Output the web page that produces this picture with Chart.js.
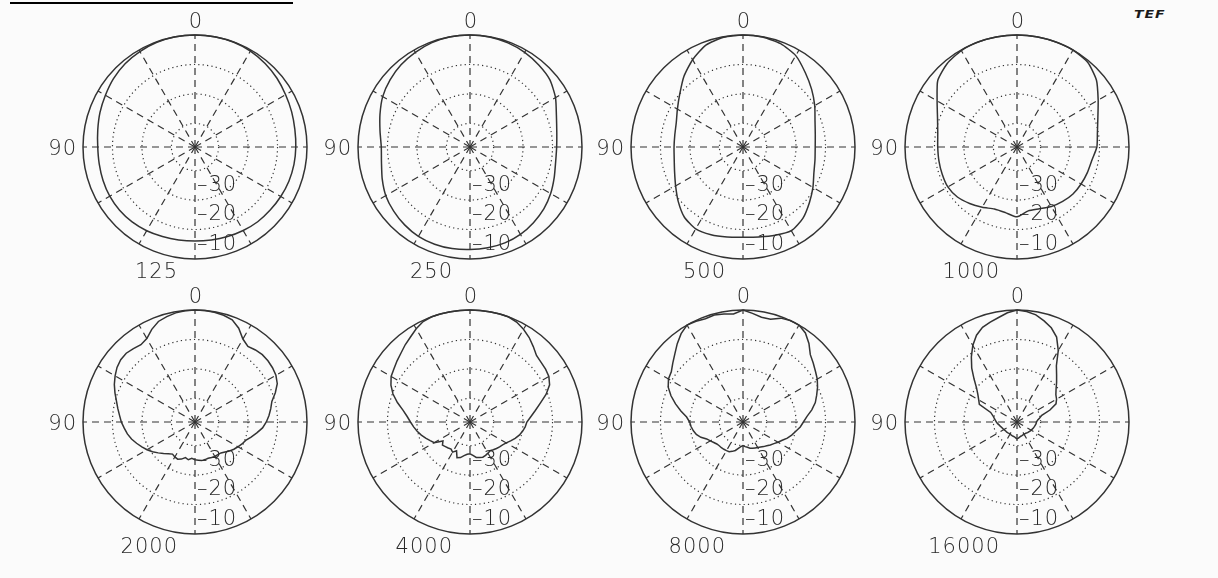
<!DOCTYPE html>
<html>
<head>
<meta charset="utf-8">
<script src="https://cdn.jsdelivr.net/npm/chart.js@4.4.1/dist/chart.umd.min.js"></script>
<style>
  html, body { margin: 0; padding: 0; background: #fbfbfb; }
  #page { position: relative; width: 1218px; height: 578px; overflow: hidden; }
  .cell { position: absolute; width: 320px; height: 320px; }
  .rule { position: absolute; left: 10px; top: 2px; width: 283px; height: 2px; background: #000; }
  .logo { position: absolute; left: 1134px; top: 8px; font: italic 900 14px "DejaVu Sans", sans-serif; letter-spacing: 1px; color: #1a1a1a; transform: scaleY(0.8); transform-origin: left top; }
</style>
</head>
<body>
<div id="page">
  <div class="rule"></div>
  <div class="logo">TEF</div>
</div>
<script>
// Frequency of each polar plot (Hz), left to right, top row first
const frequencies = ["125", "250", "500", "1000", "2000", "4000", "8000", "16000"]

// Angles in degrees, counted counterclockwise from the top (90 is on the left)
const angles10 = [0, 10, 20, 30, 40, 50, 60, 70, 80, 90, 100, 110, 120, 130, 140, 150, 160, 170,
  180, 190, 200, 210, 220, 230, 240, 250, 260, 270, 280, 290, 300, 310, 320, 330, 340, 350]
const angles5 = [0, 5, 10, 15, 20, 25, 30, 35, 40, 45, 50, 55, 60, 65, 70, 75, 80, 85,
  90, 95, 100, 105, 110, 115, 120, 125, 130, 135, 140, 145, 150, 155, 160, 165, 170, 175,
  180, 185, 190, 195, 200, 205, 210, 215, 220, 225, 230, 235, 240, 245, 250, 255, 260, 265,
  270, 275, 280, 285, 290, 295, 300, 305, 310, 315, 320, 325, 330, 335, 340, 345, 350, 355]

// Relative level in dB (0 = outer circle)
const p125 = [0, 0, -0.2, -0.6, -1.1, -1.9, -2.9, -3.7, -4.5, -5.0, -5.0, -4.8, -4.6, -4.6, -4.8, -5.2, -5.7, -6.0,
  -6.1, -6.0, -5.7, -5.3, -4.9, -4.7, -4.4, -4.1, -3.9, -3.8, -3.6, -3.1, -2.5, -1.7, -1.0, -0.4, -0.1, 0]
const p250 = [0, 0, -0.3, -0.9, -1.6, -2.6, -3.8, -5.5, -7.0, -7.9, -7.5, -6.3, -5.0, -4.2, -3.5, -3.0, -2.9, -3.0,
  -3.2, -3.3, -3.4, -3.8, -4.5, -5.3, -6.4, -7.6, -8.5, -8.6, -8.1, -6.8, -4.5, -2.6, -1.7, -0.9, -0.4, -0.1]
const p500 = [0, -0.2, -1.2, -3.8, -6.8, -10.0, -12.3, -13.9, -14.5, -14.6, -14.3, -13.3, -11.6, -9.3, -7.0, -5.9, -6.3, -7.0,
  -7.4, -7.0, -6.1, -5.2, -6.4, -8.6, -10.6, -12.4, -13.2, -13.5, -13.1, -12.0, -9.9, -7.6, -5.1, -2.2, -0.7, -0.1]
const p1000 = [0, 0, 0, -0.2, -1.1, -2.9, -6.7, -9.3, -10.7, -11.1, -11.1, -11.0, -10.9, -11.6, -13.0, -14.4, -15.6, -15.4,
  -14.3, -16.0, -15.7, -14.7, -13.9, -13.2, -12.9, -12.6, -12.2, -10.9, -10.3, -8.8, -6.2, -2.8, -0.6, 0, 0, 0]
const p2000 = [0, -0.1, -0.4, -1.0, -1.7, -3.3, -5.3, -6.0, -5.5, -5.0, -5.1, -5.7, -6.7, -7.8, -9.1, -10.4, -11.4, -12.3,
  -13.0, -13.9, -14.7, -15.7, -16.9, -18.1, -19.2, -20.4, -21.7, -22.9, -23.9, -24.7, -24.3, -24.1, -24.6, -25.5, -25.0, -25.6,
  -25.2, -25.0, -24.7, -24.8, -24.9, -24.7, -24.5, -24.5, -24.3, -23.6, -22.7, -21.9, -21.2, -20.4, -19.7, -18.3, -16.7, -15.0,
  -13.8, -12.8, -11.9, -11.0, -9.0, -7.2, -6.3, -5.9, -5.7, -5.7, -6.1, -6.7, -5.5, -2.9, -1.1, -0.5, -0.2, 0]
const p4000 = [0, 0, 0, 0, 0, -0.4, -1.5, -2.8, -3.8, -4.9, -5.7, -6.5, -7.1, -8.4, -10.2, -12.5, -14.9, -16.6,
  -17.8, -18.8, -19.8, -20.9, -22.0, -23.1, -24.0, -26.8, -25.8, -26.2, -26.5, -26.8, -26.2, -27.2, -25.1, -25.5, -26.4, -27.0,
  -27.2, -26.6, -25.8, -25.5, -25.3, -25.5, -25.8, -26.1, -25.7, -25.3, -24.9, -24.5, -23.8, -22.8, -21.7, -20.7, -19.9, -19.2,
  -18.7, -17.3, -15.5, -13.3, -10.5, -8.2, -7.1, -6.7, -6.5, -6.1, -4.6, -3.0, -1.7, -0.6, 0, 0, 0, 0]
const p8000 = [0, -1.2, -0.8, -0.4, -0.7, -0.3, 0, -1.4, -3.3, -5.3, -6.9, -8.3, -8.8, -10.0, -12.0, -14.3, -16.6, -18.8,
  -19.9, -20.3, -20.9, -21.6, -22.8, -24.4, -25.2, -25.9, -26.4, -26.6, -26.6, -26.7, -26.8, -26.9, -27.4, -28.0, -28.9, -29.6,
  -30.0, -29.6, -29.3, -28.8, -28.5, -28.3, -28.0, -27.6, -27.1, -26.6, -25.9, -25.2, -24.3, -23.3, -22.0, -20.9, -19.8, -18.5,
  -17.5, -16.2, -14.3, -12.6, -11.4, -10.1, -8.9, -8.0, -6.9, -5.7, -3.2, -1.1, 0, 0, -0.5, -1.9, -1.9, -1.0]
const p16000 = [0, -0.8, -2.0, -2.9, -3.8, -5.5, -8.0, -11.0, -14.1, -17.4, -20.1, -21.8, -23.0, -23.9, -28.5, -29.5, -30.1, -30.6,
  -31.0, -31.4, -31.9, -32.2, -32.5, -32.7, -32.9, -33.0, -33.1, -33.1, -33.2, -33.3, -33.3, -33.2, -33.1, -33.0, -32.9, -32.6,
  -32.3, -32.5, -32.8, -33.0, -33.1, -33.2, -33.2, -33.2, -33.1, -32.9, -32.8, -32.6, -32.5, -32.3, -32.1, -31.9, -31.7, -31.5,
  -31.4, -31.0, -30.2, -29.3, -26.1, -23.4, -22.5, -21.9, -20.7, -19.0, -17.1, -14.7, -10.0, -6.2, -4.0, -2.5, -1.1, -0.4]

// Radial scale and its labelled rings
const scaleMin = -38
const scaleMax = 0
const ringLabels = [-30, -20, -10]

const plots = [
  { angles: angles10, values: p125, tension: 0.2 },
  { angles: angles10, values: p250, tension: 0.2 },
  { angles: angles10, values: p500, tension: 0.2 },
  { angles: angles10, values: p1000, tension: 0.2 },
  { angles: angles5, values: p2000, tension: 0 },
  { angles: angles5, values: p4000, tension: 0 },
  { angles: angles5, values: p8000, tension: 0 },
  { angles: angles5, values: p16000, tension: 0 },
]

// Where each plot's centre sits on the page
const centers = [[195, 147], [470, 147], [743, 147], [1017, 147], [195, 422], [470, 422], [743, 422], [1017, 422]]

const ink = "#333"
const textInk = "#2a2a2a"
const page = document.getElementById("page")

// Draws "0", "90", the ring levels and the frequency around each plot
function polarText(freq) {
  return {
    id: "polarText",
    afterDraw(chart) {
      const s = chart.scales.r
      const R = s.drawingArea
      const x = s.xCenter
      const y = s.yCenter
      const ctx = chart.ctx
      ctx.save()
      ctx.fillStyle = textInk
      ctx.font = '200 21px "DejaVu Sans"'
      ctx.letterSpacing = "1px"
      ctx.textBaseline = "alphabetic"
      ctx.textAlign = "center"
      ctx.fillText("0", x + 1, y - R - 7)
      ctx.textAlign = "right"
      ctx.fillText("90", x - R - 6, y + 8)
      ctx.fillText(freq, x - 17, y + R + 19)
      ctx.textAlign = "left"
      ringLabels.forEach((v) => {
        ctx.fillText("–" + Math.abs(v), x + 2, y + s.getDistanceFromCenterForValue(v) + 20)
      })
      ctx.restore()
    },
  }
}

function makePolar(i) {
  const plot = plots[i]
  const n = plot.angles.length

  const cell = document.createElement("div")
  cell.className = "cell"
  cell.style.left = centers[i][0] - 160 + "px"
  cell.style.top = centers[i][1] - 152 + "px"
  const canvas = document.createElement("canvas")
  canvas.width = 320
  canvas.height = 320
  cell.appendChild(canvas)
  page.appendChild(cell)

  // radar runs clockwise from the top, these plots run counterclockwise
  const labels = plot.angles.map((a, j) => plot.angles[(n - j) % n])
  const data = labels.map((a) => plot.values[plot.angles.indexOf(a)])

  new Chart(canvas, {
    type: "radar",
    data: {
      labels: labels,
      datasets: [
        {
          data: data,
          borderColor: ink,
          borderWidth: 1.5,
          pointRadius: 0,
          fill: false,
          tension: plot.tension,
        },
      ],
    },
    options: {
      responsive: false,
      animation: false,
      events: [],
      layout: { padding: { left: 48, right: 48, top: 40, bottom: 56 } },
      plugins: {
        legend: { display: false },
        tooltip: { enabled: false },
      },
      scales: {
        r: {
          min: scaleMin,
          max: scaleMax,
          ticks: { display: false, stepSize: 10 },
          pointLabels: { display: false },
          grid: {
            circular: true,
            color: ink,
            lineWidth: (c) => {
              const v = c.tick ? c.tick.value : null
              if (v === scaleMax) return 1.5
              if (v === scaleMin) return 0
              return 1.2
            },
          },
          border: {
            dash: (c) => (c.tick && c.tick.value === scaleMax ? [] : [1.2, 3.2]),
          },
          angleLines: {
            color: ink,
            lineWidth: (c) => (Number(c.label) % 30 === 0 ? 1.2 : 0),
            borderDash: [7, 5],
          },
        },
      },
    },
    plugins: [polarText(frequencies[i])],
  })
}

plots.forEach((p, i) => makePolar(i))
</script>
</body>
</html>
